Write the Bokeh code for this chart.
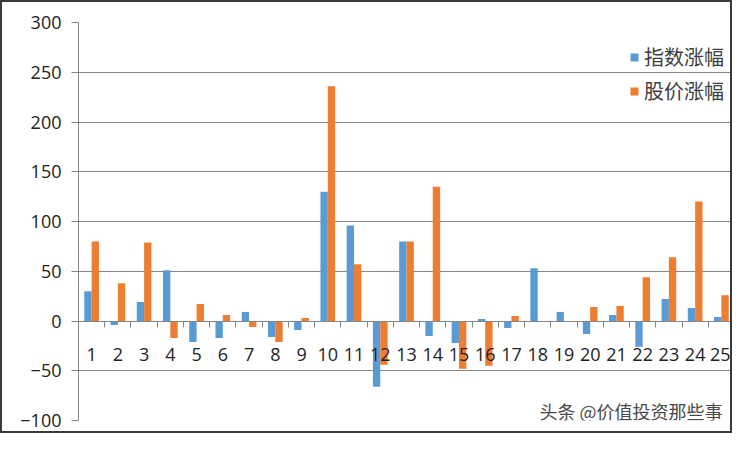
import numpy as np
from bokeh.plotting import figure
from bokeh.models import ColumnDataSource, FixedTicker, Legend, LegendItem, Label, Range1d
from bokeh.transform import dodge
from bokeh.embed import file_html
from bokeh.resources import INLINE

categories = [str(i) for i in range(1, 26)]
index_change = [30, -4, 19, 51, -21, -17, 9, -16, -9, 130, 96, -66, 80, -15, -22, 2, -7, 53, 9, -13, 6, -26, 22, 13, 4]
price_change = [80, 38, 79, -17, 17, 6, -6, -21, 3, 236, 57, -44, 80, 135, -48, -45, 5, 0, -1, 14, 15, 44, 64, 120, 26]
y_ticks = [-100, -50, 0, 50, 100, 150, 200, 250, 300]
series_names = ["指数涨幅", "股价涨幅"]
colors = ["#5B9BD5", "#ED7D31"]

pos = np.arange(1, len(categories) + 1)
src = ColumnDataSource(dict(x=pos, a=index_change, b=price_change))

p = figure(width=732, height=433, output_backend="svg", toolbar_location=None,
           x_range=Range1d(0.5, len(categories) + 0.5), y_range=Range1d(-100, 300),
           min_border_left=76, min_border_right=0, min_border_top=20, min_border_bottom=15)
p.styles = {"border": "2px solid #3a3a3a"}
p.outline_line_color = None
p.background_fill_color = "white"
p.border_fill_color = "white"

bw = 0.28
ra = p.vbar(x=dodge("x", -bw / 2), top="a", bottom=0, width=bw, source=src,
            fill_color=colors[0], line_color=None)
rb = p.vbar(x=dodge("x", bw / 2), top="b", bottom=0, width=bw, source=src,
            fill_color=colors[1], line_color=None)

# axes
p.yaxis.ticker = FixedTicker(ticks=y_ticks)
p.yaxis.axis_line_color = "#868686"
p.yaxis.major_tick_line_color = "#868686"
p.yaxis.major_tick_out = 7
p.yaxis.major_tick_in = 0
p.yaxis.minor_tick_line_color = None
p.yaxis.major_label_text_font = "Open Sans"
p.yaxis.major_label_text_font_size = "18px"
p.yaxis.major_label_text_color = "#222222"
p.yaxis.major_label_standoff = 10

p.xaxis.ticker = FixedTicker(ticks=list(pos), minor_ticks=list(np.arange(0.5, len(categories) + 1, 1.0)))
p.xaxis.major_label_overrides = {int(k): c for k, c in zip(pos, categories)}
p.xaxis.fixed_location = 0
p.xaxis.axis_line_color = "#868686"
p.xaxis.major_tick_line_color = None
p.xaxis.major_tick_out = 0
p.xaxis.minor_tick_line_color = "#868686"
p.xaxis.minor_tick_out = 6
p.xaxis.minor_tick_in = 0
p.xaxis.major_label_text_font = "Open Sans"
p.xaxis.major_label_text_font_size = "18px"
p.xaxis.major_label_text_color = "#222222"
p.xaxis.major_label_standoff = 21

p.xgrid.grid_line_color = None
p.ygrid.ticker = FixedTicker(ticks=y_ticks)
p.ygrid.grid_line_color = "#868686"
p.ygrid.grid_line_width = 1

legend = Legend(items=[LegendItem(label=series_names[0], renderers=[ra]),
                       LegendItem(label=series_names[1], renderers=[rb])],
                location=(551, 315))
legend.background_fill_alpha = 0
legend.border_line_color = None
legend.label_text_font = "Noto Sans CJK SC"
legend.label_text_font_size = "20px"
legend.label_text_color = "#404040"
legend.glyph_width = 10
legend.glyph_height = 10
legend.label_standoff = 5
legend.spacing = 5
legend.padding = 0
legend.margin = 0
p.add_layout(legend)

wm = Label(x=len(categories) + 0.5, y=-90, x_offset=-12, text="头条 @价值投资那些事",
           text_align="right", text_baseline="middle", text_font="Noto Sans CJK SC",
           text_font_size="18px", text_color="#4a4a4a")
p.add_layout(wm)

open("out.html", "w").write(file_html(p, INLINE))
